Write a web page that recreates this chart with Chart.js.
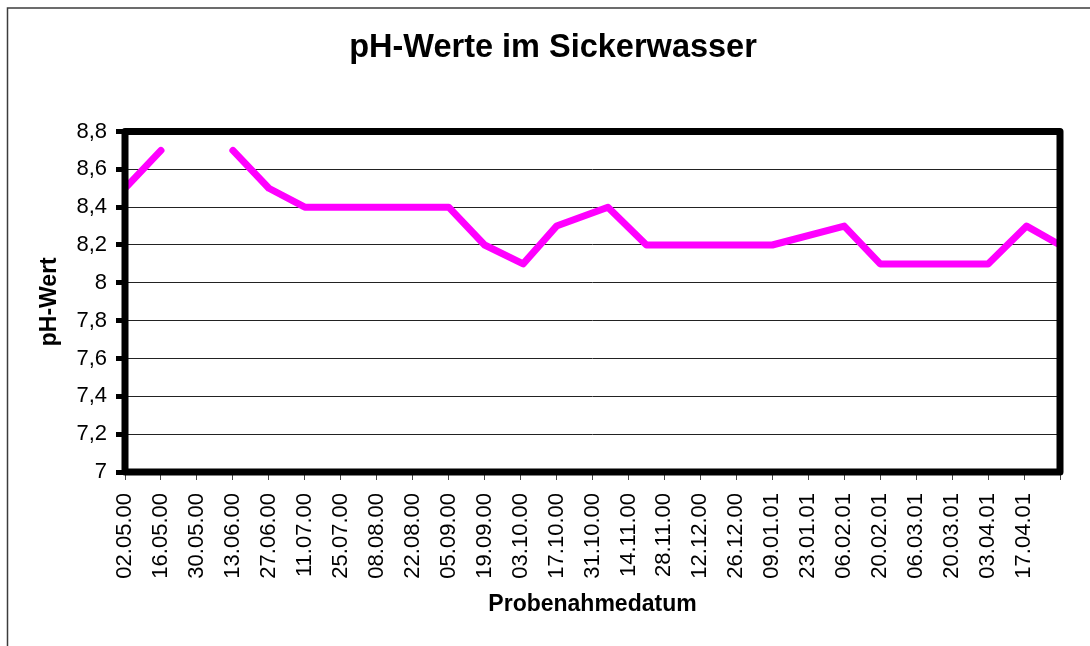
<!DOCTYPE html>
<html lang="de">
<head>
<meta charset="utf-8">
<title>pH-Werte im Sickerwasser</title>
<script src="https://cdn.jsdelivr.net/npm/chart.js@4.4.1/dist/chart.umd.min.js"></script>
<style>
    html, body { margin: 0; padding: 0; background: #fff; }
    canvas { display: block; }
</style>
</head>
<body>
<canvas id="phChart" width="1090" height="646"></canvas>
<script>
// Probenahmedaten (TT.MM.JJ) und gemessene pH-Werte, null = keine Messung
const sampleDates = ['02.05.00', '16.05.00', '30.05.00', '13.06.00', '27.06.00', '11.07.00', '25.07.00',
    '08.08.00', '22.08.00', '05.09.00', '19.09.00', '04.10.00', '17.10.00', '06.11.00', '21.11.00',
    '05.12.00', '19.12.00', '09.01.01', '06.02.01', '20.02.01', '06.03.01', '20.03.01', '03.04.01',
    '18.04.01', '01.05.01'];
const phValues = [8.5, 8.7, null, 8.7, 8.5, 8.4, 8.4,
    8.4, 8.4, 8.4, 8.2, 8.1, 8.3, 8.4, 8.2,
    8.2, 8.2, 8.2, 8.3, 8.1, 8.1, 8.1, 8.1,
    8.3, 8.2];

// Achsenbeschriftungen
const xTickLabels = ['02.05.00', '16.05.00', '30.05.00', '13.06.00', '27.06.00', '11.07.00', '25.07.00',
    '08.08.00', '22.08.00', '05.09.00', '19.09.00', '03.10.00', '17.10.00', '31.10.00', '14.11.00',
    '28.11.00', '12.12.00', '26.12.00', '09.01.01', '23.01.01', '06.02.01', '20.02.01', '06.03.01',
    '20.03.01', '03.04.01', '17.04.01'];
const yTickLabels = ['7', '7,2', '7,4', '7,6', '7,8', '8', '8,2', '8,4', '8,6', '8,8'];

const FONT = "'Liberation Sans', Arial, sans-serif";

// Tage seit dem ersten Probenahmetag
function dayOf(s) {
    const [d, m, y] = s.split('.').map(Number);
    return Math.round((Date.UTC(2000 + y, m - 1, d) - Date.UTC(2000, 4, 2)) / 864e5);
}

const points = sampleDates.map((s, i) => ({ x: dayOf(s), y: phValues[i] }));

// weisser Hintergrund, Rahmen des Diagramms und dicker Rahmen der Zeichnungsflaeche
const frames = {
    id: 'frames',
    beforeDraw(chart) {
        const ctx = chart.ctx;
        ctx.save();
        ctx.fillStyle = '#fff';
        ctx.fillRect(0, 0, chart.width, chart.height);
        ctx.strokeStyle = '#3c3c3c';
        ctx.lineWidth = 1.5;
        ctx.strokeRect(7.5, 8, 2000, 2000);
        ctx.restore();
    },
    afterDatasetsDraw(chart) {
        const a = chart.chartArea;
        const ctx = chart.ctx;
        ctx.save();
        ctx.strokeStyle = '#000';
        ctx.lineWidth = 7;
        ctx.lineJoin = 'round';
        ctx.strokeRect(a.left, a.top, a.right - a.left, a.bottom - a.top);
        ctx.restore();
    }
};

new Chart(document.getElementById('phChart').getContext('2d'), {
    type: 'line',
    data: {
        datasets: [{
            label: 'pH-Wert',
            data: points,
            borderColor: '#ff00ff',
            backgroundColor: '#ff00ff',
            borderWidth: 7,
            borderCapStyle: 'round',
            borderJoinStyle: 'round',
            pointRadius: 0,
            tension: 0,
            spanGaps: false
        }]
    },
    options: {
        responsive: false,
        animation: false,
        layout: { padding: { left: 16, right: 0, top: 0, bottom: 0 } },
        plugins: {
            legend: { display: false },
            tooltip: { enabled: false },
            title: {
                display: true,
                text: 'pH-Werte im Sickerwasser',
                color: '#000',
                font: { family: FONT, size: 32.5, weight: 'bold' },
                padding: { top: 29, bottom: 63.5 }
            }
        },
        scales: {
            x: {
                type: 'linear',
                min: 0,
                max: 364,
                border: { display: false },
                grid: { drawOnChartArea: false, drawTicks: true, tickLength: 8, tickColor: '#444', tickWidth: 1 },
                ticks: {
                    stepSize: 14,
                    autoSkip: false,
                    minRotation: 90,
                    maxRotation: 90,
                    padding: 13,
                    color: '#000',
                    font: { family: FONT, size: 22 },
                    callback: (value, index) => xTickLabels[index] ?? ''
                },
                title: {
                    display: true,
                    text: 'Probenahmedatum',
                    color: '#000',
                    font: { family: FONT, size: 23, weight: 'bold' },
                    padding: { top: 0, bottom: 27.2 }
                },
                afterFit(scale) {
                    scale.height = 174;
                    scale.paddingLeft = 0;
                    scale.paddingRight = 0;
                }
            },
            y: {
                min: 7,
                max: 8.8,
                border: { display: false },
                grid: { color: '#222', lineWidth: 1, tickColor: '#000', tickWidth: 5, tickLength: 9 },
                ticks: {
                    stepSize: 0.2,
                    padding: 9,
                    color: '#000',
                    font: { family: FONT, size: 22 },
                    callback: (value, index) => yTickLabels[index] ?? ''
                },
                title: {
                    display: true,
                    text: 'pH-Wert',
                    color: '#000',
                    font: { family: FONT, size: 23, weight: 'bold' },
                    padding: { top: 20, bottom: 0 }
                },
                afterFit(scale) { scale.width = 109; }
            },
            // leere Achse rechts haelt den Abstand zum rechten Rand
            spacer: {
                type: 'linear',
                position: 'right',
                grid: { display: false },
                border: { display: false },
                ticks: { display: false },
                afterFit(scale) { scale.width = 30; }
            }
        }
    },
    plugins: [frames]
});
</script>
</body>
</html>
